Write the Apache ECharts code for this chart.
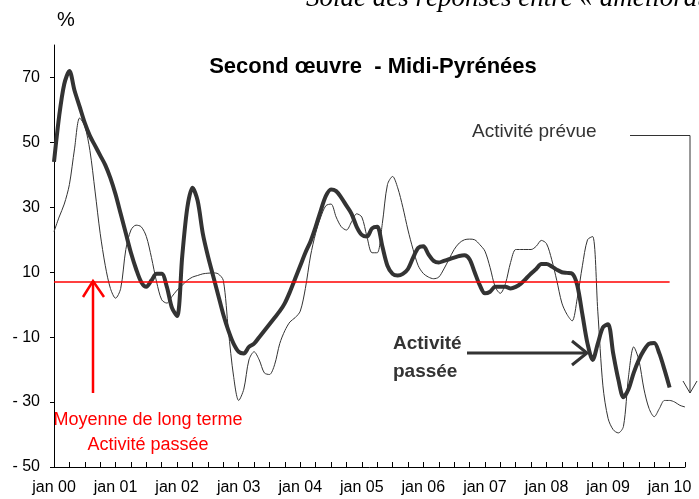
<!DOCTYPE html>
<html>
<head>
<meta charset="utf-8">
<title>Second œuvre - Midi-Pyrénées</title>
<script src="https://cdn.jsdelivr.net/npm/echarts@6/dist/echarts.min.js"></script>
<style>
  html, body { margin: 0; padding: 0; background: #fff; }
  #chart { width: 699px; height: 499px; }
</style>
</head>
<body>
<div id="chart"></div>
<script>
// mois (axe x), de jan 00 à avr 10
const monthNames = ['jan', 'fév', 'mar', 'avr', 'mai', 'jun', 'jul', 'aoû', 'sep', 'oct', 'nov', 'déc']
const years = ['00', '01', '02', '03', '04', '05', '06', '07', '08', '09', '10']
const categories = []
years.forEach(y => monthNames.forEach(m => categories.push(m + ' ' + y)))
categories.length = 124

// Activité passée (trait épais), jan 00 -> jan 10
const activitePassee = [
  44, 58, 68, 72, 66, 61, 56, 52, 49, 46, 43, 39,
  34, 28, 22, 16, 11, 7, 5.5, 7.5, 9.5, 9.5, 5.5, -1,
  -3.5, 15, 30, 36, 32, 22, 15, 9, 3, -3, -8, -12,
  -14.5, -15, -13, -12, -10, -8, -6, -4, -2, 0.5, 4, 8,
  12, 16, 19.5, 24, 29, 33.5, 35.5, 35, 33, 30.5, 28, 24,
  21.5, 21, 23.5, 24, 18, 12, 9.5, 9, 9.5, 11, 14.5, 17.5,
  18, 15.5, 13.5, 13, 13.5, 14, 14.5, 15, 15.2, 14, 10, 6,
  3.5, 4, 5.5, 5.5, 5.5, 5, 5.5, 6.5, 8, 9.6, 11, 12.5,
  12.5, 11.8, 10.8, 10, 9.8, 9.6, 6, -3, -12, -17, -12, -7,
  -6, -15, -23, -28.5, -26, -21, -17, -14, -12, -11.8, -15, -20,
  -25.5
]

// Activité prévue (trait fin), jan 00 -> avr 10
const activitePrevue = [
  22.5, 27, 31, 37, 48, 57.5, 55, 47.5, 35, 22, 12, 5,
  2, 5, 17, 23, 24.5, 24, 21, 14.5, 7, 1.5, 0.5, 2.5,
  4.5, 6, 7.5, 8.5, 9, 9.5, 9.7, 9.8, 9.5, 7.5, -8, -22,
  -29.5, -26, -17, -14.5, -17, -21, -21.5, -18.5, -12, -8, -5.3, -4,
  -2, 5, 15, 22, 27, 30.5, 31, 27, 24, 23, 25.5, 28,
  27, 21, 16, 16, 25, 37, 39.5, 36, 30, 23, 17, 12,
  9.6, 8.5, 8, 8.5, 11, 14, 17, 19, 20, 20.2, 20, 18.5,
  16.5, 11.5, 5.5, 3.5, 6.5, 13, 17, 17, 17, 17, 18, 19.8,
  18.8, 14, 7.5, 0.5, -3, -5, 2, 12, 20, 21, -2, -25,
  -35, -38.5, -39.5, -37.5, -22, -13, -17, -26, -32, -34.5, -32, -29.5,
  -29.5, -30, -31, -31.5
]

// moyenne de long terme de l'activité passée
const moyenneLongTerme = 7
const yTicks = { min: -50, max: 80, interval: 20 }

const chart = echarts.init(document.getElementById('chart'))
const ink = '#333'
const red = '#ff0000'
const font = 'Liberation Sans, Arial, sans-serif'

const option = {
  animation: false,
  grid: { left: 54, right: 14, top: 45, bottom: 32, containLabel: false },
  xAxis: {
    type: 'category',
    data: categories,
    boundaryGap: false,
    axisLine: { onZero: false, lineStyle: { color: '#000', width: 1 } },
    axisTick: {
      inside: true,
      length: 5,
      interval: function (i) { return i % 3 === 0 },
      lineStyle: { color: '#000' }
    },
    axisLabel: {
      interval: function (i) { return i % 12 === 0 },
      margin: 13,
      color: '#000',
      fontSize: 16,
      fontFamily: font
    },
    splitLine: { show: false }
  },
  yAxis: {
    type: 'value',
    min: yTicks.min,
    max: yTicks.max,
    interval: yTicks.interval,
    axisLine: { show: true, lineStyle: { color: '#000', width: 1 } },
    axisTick: { show: true, length: 4, lineStyle: { color: '#000' } },
    axisLabel: {
      showMaxLabel: false,
      margin: 14,
      color: '#000',
      fontSize: 16,
      fontFamily: font,
      formatter: function (v) { return v < 0 ? '- ' + Math.abs(v) : String(v) }
    },
    splitLine: { show: false }
  },
  series: [
    {
      name: 'Activité prévue',
      type: 'line',
      data: activitePrevue,
      smooth: 0.3,
      symbol: 'none',
      lineStyle: { color: ink, width: 1 },
      z: 2
    },
    {
      name: 'Activité passée',
      type: 'line',
      data: activitePassee,
      smooth: 0.3,
      symbol: 'none',
      lineStyle: { color: ink, width: 4 },
      z: 3,
      markLine: {
        silent: true,
        symbol: 'none',
        label: { show: false },
        lineStyle: { color: red, width: 1.5, type: 'solid' },
        data: [[{ coord: ['jan 00', moyenneLongTerme] }, { coord: ['jan 10', moyenneLongTerme] }]]
      }
    }
  ],
  graphic: [
    // bandeau du haut, coupé
    {
      type: 'text', left: 306, top: -15,
      style: {
        text: 'Solde des réponses entre « amélioration » et « dégradation »',
        font: 'italic 27px "Liberation Serif", "DejaVu Serif", serif',
        fill: '#000'
      }
    },
    {
      type: 'text', left: 57, top: 10,
      style: { text: '%', font: '20px ' + font, fill: '#000' }
    },
    {
      type: 'text', x: 373, y: 67,
      style: {
        text: 'Second œuvre  - Midi-Pyrénées',
        font: 'bold 22px ' + font,
        fill: '#000', align: 'center', verticalAlign: 'middle'
      }
    },
    // Activité prévue + connecteur
    {
      type: 'text', x: 472, y: 132,
      style: { text: 'Activité prévue', font: '19px ' + font, fill: ink, verticalAlign: 'middle' }
    },
    {
      type: 'polyline',
      shape: { points: [[630, 135.5], [690, 135.5], [690, 393]] },
      style: { stroke: ink, lineWidth: 1, fill: null }
    },
    {
      type: 'polyline',
      shape: { points: [[683, 381], [690, 393], [697, 381]] },
      style: { stroke: ink, lineWidth: 1, fill: null }
    },
    // Activité passée + flèche
    {
      type: 'text', x: 393, y: 344,
      style: { text: 'Activité', font: 'bold 19px ' + font, fill: ink, verticalAlign: 'middle' }
    },
    {
      type: 'text', x: 393, y: 372,
      style: { text: 'passée', font: 'bold 19px ' + font, fill: ink, verticalAlign: 'middle' }
    },
    {
      type: 'line',
      shape: { x1: 467, y1: 353, x2: 587, y2: 353 },
      style: { stroke: ink, lineWidth: 3 }
    },
    {
      type: 'polyline',
      shape: { points: [[572, 341], [587, 353], [572, 365]] },
      style: { stroke: ink, lineWidth: 3, fill: null }
    },
    // Moyenne de long terme
    {
      type: 'line',
      shape: { x1: 93, y1: 393, x2: 93, y2: 281 },
      style: { stroke: red, lineWidth: 2.5 }
    },
    {
      type: 'polyline',
      shape: { points: [[83, 297], [93, 281], [104, 297]] },
      style: { stroke: red, lineWidth: 2.5, fill: null }
    },
    {
      type: 'text', x: 148, y: 420,
      style: {
        text: 'Moyenne de long terme', font: '18px ' + font, fill: red,
        align: 'center', verticalAlign: 'middle'
      }
    },
    {
      type: 'text', x: 148, y: 445,
      style: {
        text: 'Activité passée', font: '18px ' + font, fill: red,
        align: 'center', verticalAlign: 'middle'
      }
    }
  ]
}

chart.setOption(option)
</script>
</body>
</html>
